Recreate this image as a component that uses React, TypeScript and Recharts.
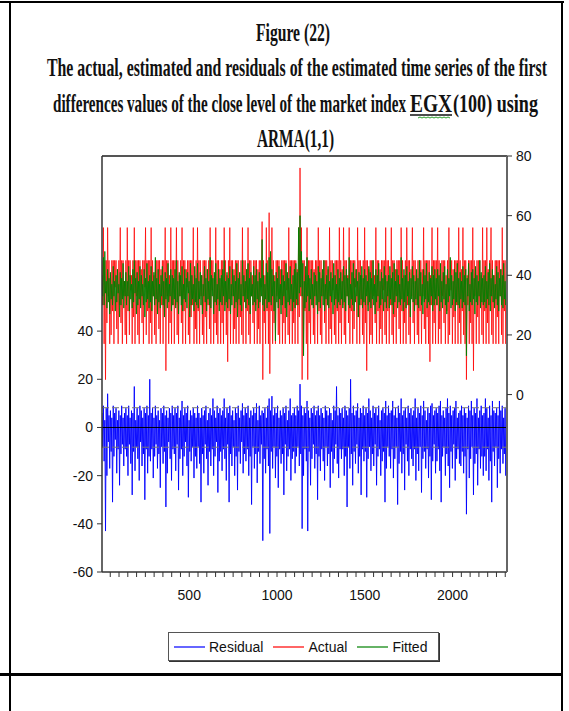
import { LineChart, Line, XAxis, YAxis, ReferenceLine } from "recharts";

// every 4th observation, starting at obs 3
const OBS_START = 3;
const OBS_STEP = 4;

const actual = [
  45, 30, 56, 17, 45, 5, 45, 24, 56, 33, 45, 17, 40, 20, 45, 28, 45, 17, 45, 36, 45, 22, 42, 17, 45, 30, 56, 24, 45, 17, 45, 33, 38, 20,
  45, 17, 56, 28, 45, 20, 45, 35, 40, 17, 45, 26, 56, 17, 45, 33, 45, 20, 45, 17, 45, 30, 42, 24, 45, 17, 45, 36, 56, 20, 45, 28, 45, 17,
  45, 24, 56, 17, 45, 33, 40, 20, 45, 17, 45, 28, 45, 22, 45, 17, 42, 30, 45, 17, 45, 26, 56, 8, 45, 33, 45, 17, 40, 24, 56, 17, 45, 30,
  45, 17, 45, 30, 56, 20, 45, 17, 40, 33, 45, 24, 56, 17, 45, 28, 45, 17, 42, 36, 45, 20, 45, 17, 45, 26, 45, 30, 56, 17, 40, 22, 45, 17,
  56, 28, 45, 17, 45, 33, 40, 20, 45, 17, 45, 26, 45, 17, 42, 30, 45, 22, 56, 17, 45, 35, 45, 17, 40, 24, 56, 20, 45, 17, 45, 30, 42, 17,
  45, 24, 45, 17, 56, 30, 45, 20, 40, 11, 45, 28, 56, 17, 45, 33, 45, 17, 42, 22, 45, 17, 45, 30, 45, 17, 40, 26, 45, 20, 56, 17, 45, 33,
  45, 17, 42, 28, 56, 20, 45, 17, 45, 33, 40, 24, 45, 17, 45, 30, 45, 17, 42, 22, 45, 17, 45, 36, 58, 5, 45, 24, 40, 17, 56, 28, 45, 17,
  61, 7, 45, 28, 56, 17, 45, 24, 40, 17, 45, 33, 45, 20, 45, 17, 42, 30, 45, 17, 45, 24, 45, 17, 45, 35, 40, 20, 56, 17, 45, 28, 45, 17,
  45, 24, 45, 17, 45, 30, 42, 17, 56, 26, 76, 33, 56, 5, 45, 17, 45, 28, 40, 17, 56, 5, 45, 24, 45, 17, 45, 30, 45, 20, 42, 17, 45, 33,
  45, 17, 56, 28, 45, 20, 45, 17, 40, 33, 45, 24, 45, 17, 45, 30, 42, 17, 56, 22, 45, 17, 45, 35, 40, 20, 45, 17, 45, 28, 45, 17, 56, 24,
  45, 17, 42, 30, 56, 20, 45, 17, 45, 33, 40, 24, 56, 17, 45, 28, 45, 17, 45, 22, 45, 36, 42, 17, 56, 26, 45, 17, 45, 30, 40, 20, 45, 17,
  56, 24, 45, 8, 45, 30, 42, 17, 45, 20, 45, 17, 45, 33, 40, 24, 56, 17, 45, 28, 45, 17, 42, 22, 45, 17, 45, 35, 45, 20, 56, 17, 45, 28,
  45, 17, 40, 30, 56, 20, 45, 17, 45, 26, 42, 17, 45, 33, 45, 22, 45, 17, 56, 28, 45, 17, 40, 24, 45, 17, 56, 30, 45, 20, 45, 17, 42, 33,
  56, 24, 45, 17, 45, 30, 40, 20, 45, 17, 45, 28, 45, 17, 42, 33, 56, 22, 45, 17, 45, 26, 45, 17, 45, 11, 40, 30, 56, 17, 45, 24, 45, 17,
  45, 30, 56, 17, 45, 22, 42, 17, 45, 33, 45, 24, 45, 17, 40, 28, 45, 17, 56, 20, 45, 35, 45, 17, 42, 26, 45, 17, 45, 30, 45, 17, 56, 24,
  45, 17, 42, 28, 56, 20, 45, 17, 45, 5, 40, 30, 45, 17, 45, 24, 45, 17, 56, 8, 45, 33, 42, 17, 45, 26, 45, 17, 45, 30, 40, 20, 56, 17,
  45, 28, 45, 17, 56, 24, 42, 17, 45, 33, 56, 20, 45, 17, 40, 30, 45, 17, 45, 26, 45, 17, 45, 33, 42, 20, 56, 17, 45, 28, 45, 17, 40,
];

const fitted = [
  40, 33, 46, 30, 48, 34, 38, 29, 42, 31, 39, 27, 41, 32, 37, 30, 43, 33, 38, 28, 40, 31, 42, 34, 37, 26, 41, 30, 39, 32, 44, 29, 38, 33,
  41, 30, 38, 33, 43, 28, 40, 32, 37, 29, 42, 31, 45, 34, 39, 27, 41, 30, 38, 32, 43, 29, 40, 33, 37, 30, 42, 26, 39, 31, 44, 32, 38, 29,
  40, 31, 43, 28, 38, 33, 41, 30, 46, 32, 39, 27, 42, 31, 37, 29, 40, 33, 43, 30, 38, 26, 41, 32, 39, 29, 44, 31, 37, 33, 42, 28, 40, 30,
  39, 32, 42, 29, 45, 31, 38, 27, 41, 33, 40, 30, 43, 28, 37, 32, 42, 31, 39, 29, 41, 34, 38, 26, 44, 30, 40, 32, 37, 28, 43, 31, 39, 30,
  44, 29, 38, 32, 41, 30, 40, 27, 37, 33, 43, 31, 39, 28, 42, 32, 38, 30, 46, 29, 40, 33, 39, 27, 41, 31, 44, 30, 37, 32, 42, 28, 39, 31,
  40, 30, 42, 33, 45, 28, 38, 31, 41, 29, 39, 32, 43, 27, 37, 30, 42, 33, 40, 29, 38, 31, 44, 26, 39, 32, 41, 30, 37, 28, 45, 33, 40, 31,
  38, 29, 42, 32, 44, 30, 39, 27, 41, 33, 37, 30, 43, 31, 40, 28, 42, 32, 38, 29, 41, 31, 39, 33, 52, 30, 40, 28, 37, 32, 44, 29, 41, 31,
  46, 31, 48, 30, 42, 33, 40, 28, 38, 18, 41, 31, 39, 29, 43, 32, 37, 27, 42, 30, 40, 33, 38, 29, 44, 26, 41, 31, 39, 30, 43, 32, 37, 28,
  40, 31, 42, 29, 44, 32, 41, 30, 56, 34, 60, 36, 48, 33, 44, 13, 38, 29, 43, 31, 46, 33, 40, 28, 39, 32, 42, 30, 37, 29, 41, 33, 40, 30,
  38, 27, 43, 31, 41, 29, 39, 33, 42, 30, 45, 28, 37, 32, 40, 30, 43, 29, 38, 33, 41, 31, 39, 27, 44, 30, 40, 32, 37, 29, 42, 31, 39, 30,
  41, 32, 38, 29, 43, 31, 40, 28, 42, 33, 39, 30, 46, 29, 37, 32, 41, 30, 44, 28, 39, 31, 42, 33, 38, 26, 41, 30, 40, 32, 43, 29, 39, 31,
  42, 30, 40, 33, 38, 28, 43, 31, 41, 29, 39, 32, 45, 30, 37, 27, 42, 31, 40, 33, 44, 29, 38, 30, 41, 32, 39, 28, 43, 31, 40, 29, 38, 33,
  40, 29, 43, 32, 39, 30, 41, 27, 44, 31, 38, 33, 42, 29, 40, 31, 37, 30, 46, 32, 39, 28, 42, 31, 40, 29, 43, 33, 38, 30, 41, 26, 39, 32,
  43, 31, 40, 28, 38, 32, 42, 30, 39, 29, 45, 33, 41, 30, 37, 27, 42, 31, 40, 32, 44, 29, 38, 31, 41, 30, 39, 33, 43, 28, 40, 30, 42, 32,
  39, 30, 42, 33, 40, 28, 44, 31, 38, 29, 41, 32, 43, 30, 37, 27, 42, 31, 39, 33, 46, 29, 40, 30, 38, 32, 42, 28, 41, 31, 44, 30, 39, 29,
  41, 32, 38, 29, 43, 31, 40, 30, 42, 13, 39, 33, 44, 28, 37, 31, 41, 30, 42, 32, 39, 27, 43, 31, 40, 30, 38, 33, 45, 29, 41, 31, 39, 30,
  40, 31, 43, 29, 38, 32, 41, 30, 44, 28, 39, 33, 42, 31, 40, 29, 37, 32, 43, 30, 41, 28, 39, 33, 42, 30, 40, 29, 44, 32, 38, 30, 41,
];

const residual = [
  6, -8, 9, -14, 3, -43, 8, -20, 14, -6, 5, -17, 7, -10, 4, -31, 9, -12, 6, -5, 8, -19, 3, -9, 7, -24, 5, -11, 9, -7, 4, -16, 6, -9,
  8, -12, 5, -20, 9, -7, 4, -15, 7, -28, 6, -10, 17, -18, 3, -8, 8, -13, 5, -22, 9, -6, 7, -16, 4, -11, 8, -30, 6, -9, 9, -19, 5, -12,
  20, -14, 6, -9, 8, -21, 4, -12, 9, -7, 5, -17, 7, -11, 3, -25, 8, -8, 6, -15, 9, -10, 5, -33, 7, -19, 4, -6, 8, -13, 6, -22, 9, -9,
  5, -11, 8, -18, 6, -7, 9, -26, 4, -13, 7, -9, 11, -20, 5, -12, 8, -6, 6, -16, 9, -29, 3, -10, 7, -14, 5, -8, 8, -21, 6, -12, 4, -17,
  9, -8, 6, -15, 4, -31, 8, -11, 5, -19, 7, -7, 9, -13, 3, -24, 6, -10, 8, -16, 5, -9, 12, -20, 7, -12, 4, -6, 9, -27, 6, -14, 8, -10,
  5, -18, 7, -9, 12, -13, 4, -22, 8, -7, 6, -31, 9, -11, 5, -16, 7, -8, 3, -20, 8, -12, 6, -26, 9, -10, 4, -15, 7, -6, 10, -19, 5, -11,
  8, -14, 6, -9, 9, -20, 4, -12, 7, -32, 5, -8, 8, -17, 6, -11, 10, -23, 3, -10, 9, -15, 5, -7, 7, -47, 6, -13, 8, -19, 4, -9, 9, -16,
  12, -44, 7, -10, 13, -17, 5, -8, 8, -21, 6, -12, 9, -25, 4, -9, 7, -15, 5, -11, 8, -28, 6, -7, 9, -18, 3, -12, 7, -9, 12, -22, 5, -13,
  6, -10, 8, -19, 5, -12, 9, -8, 7, -16, 18, -11, 9, -42, 5, -20, 8, -9, 6, -14, 11, -43, 7, -10, 4, -24, 8, -13, 6, -7, 9, -17, 5, -11,
  7, -30, 9, -12, 5, -18, 8, -9, 6, -14, 4, -22, 9, -8, 7, -16, 5, -11, 8, -25, 6, -10, 3, -19, 9, -13, 7, -7, 17, -15, 5, -21, 8, -9,
  6, -13, 8, -9, 4, -20, 9, -12, 7, -33, 5, -8, 8, -17, 20, -11, 6, -24, 9, -10, 5, -15, 7, -7, 10, -19, 4, -12, 8, -28, 6, -9, 9, -14,
  5, -10, 8, -29, 6, -13, 12, -8, 7, -18, 4, -11, 9, -16, 6, -7, 8, -24, 5, -12, 9, -9, 3, -20, 7, -14, 8, -10, 6, -31, 11, -17, 5, -8,
  9, -12, 6, -17, 7, -9, 11, -21, 5, -13, 8, -8, 4, -32, 9, -15, 6, -10, 12, -19, 5, -11, 7, -26, 8, -7, 4, -14, 9, -20, 6, -9, 8, -13,
  5, -16, 7, -9, 12, -22, 4, -11, 8, -18, 6, -8, 9, -27, 5, -13, 11, -10, 7, -17, 3, -9, 8, -21, 6, -12, 9, -30, 10, -14, 5, -7, 7, -19,
  8, -14, 6, -9, 9, -18, 11, -31, 5, -12, 7, -8, 4, -20, 8, -11, 12, -16, 6, -25, 9, -10, 5, -17, 7, -7, 8, -22, 11, -13, 4, -9, 6, -15,
  7, -16, 9, -10, 5, -19, 8, -12, 6, -36, 4, -9, 9, -21, 7, -13, 11, -8, 5, -28, 8, -15, 6, -11, 12, -24, 4, -9, 7, -17, 9, -12, 5, -20,
  6, -12, 12, -18, 8, -9, 4, -22, 9, -14, 5, -31, 11, -10, 7, -16, 6, -8, 8, -25, 5, -13, 11, -19, 7, -9, 9, -15, 4, -11, 8, -20, 11,
];

const xTicks = Array.from({ length: 46 }, (_, i) => (i + 1) * 50);
const leftTicks = [-60, -40, -20, 0, 20, 40];
const rightTicks = [0, 20, 40, 60, 80];
const seBand = 8.2; // +/- 1 S.E. of residuals

const legendItems = [
  { name: "Residual", color: "#0000ff" },
  { name: "Actual", color: "#ff0000" },
  { name: "Fitted", color: "#008000" },
];

const data = actual.map((a, i) => ({
  obs: OBS_START + i * OBS_STEP,
  actual: a,
  fitted: fitted[i],
  residual: residual[i],
}));

const axisFont = { fontFamily: "'Liberation Sans', Arial, sans-serif", fontSize: 14, fill: "#111" };

// title font is a tall, narrow bold serif: draw a small bold serif and stretch it vertically
const SY = 1.85;

function Title() {
  const font = { fontFamily: "'Liberation Serif', 'Times New Roman', serif", fontWeight: 700, fontSize: 14, fill: "#111" };
  const adj = "spacingAndGlyphs";
  return (
    <svg width={569} height={160} style={{ position: "absolute", left: 0, top: 0 }}>
      <g transform={`scale(1,${SY})`}>
        <text x={256} y={41 / SY} textLength={74} lengthAdjust={adj} {...font}>
          Figure (22)
        </text>
        <text x={47} y={76 / SY} textLength={500} lengthAdjust={adj} {...font}>
          The actual, estimated and residuals of the estimated time series of the first
        </text>
        <text x={53} y={112 / SY} textLength={353} lengthAdjust={adj} {...font}>
          differences values of the close level of the market index
        </text>
        <text x={410} y={112 / SY} textLength={42} lengthAdjust={adj} {...font}>
          EGX
        </text>
        <text x={453} y={112 / SY} textLength={85} lengthAdjust={adj} {...font}>
          (100) using
        </text>
        <text x={257} y={147 / SY} textLength={77} lengthAdjust={adj} {...font}>
          ARMA(1,1)
        </text>
      </g>
      <line x1={410} x2={452} y1={115} y2={115} stroke="#111" strokeWidth={1.5} />
      <polyline
        points="418,118 420,117 422,118 424,117 426,118 428,117 430,118 432,117 434,118 436,117 438,118 440,117 442,118 444,117 446,118 448,117 450,118"
        fill="none"
        stroke="#2a9d2a"
        strokeWidth={1}
      />
    </svg>
  );
}

export default function App() {
  return (
    <div style={{ position: "absolute", left: 0, top: 0, width: 569, height: 711, background: "#fff", overflow: "hidden" }}>
      {/* table borders */}
      <div style={{ position: "absolute", left: 0, top: 1, width: 564, height: 2, background: "#000" }} />
      <div style={{ position: "absolute", left: 9, top: 1, width: 2, height: 710, background: "#000" }} />
      <div style={{ position: "absolute", left: 561, top: 1, width: 2, height: 710, background: "#000" }} />
      <div style={{ position: "absolute", left: 0, top: 673, width: 563, height: 3, background: "#000" }} />

      <Title />

      <div style={{ position: "absolute", left: 0, top: 140 }}>
        <LineChart width={569} height={480} data={data} margin={{ top: 16, right: 22, bottom: 18, left: 62 }}>
          <XAxis
            dataKey="obs"
            type="number"
            domain={[3, 2310]}
            allowDataOverflow
            ticks={xTicks}
            interval={0}
            tickSize={5}
            tickMargin={13}
            height={30}
            tick={axisFont}
            tickFormatter={(v: number) => (v % 500 === 0 ? String(v) : "")}
            axisLine={{ stroke: "#333", strokeWidth: 1.5 }}
            tickLine={{ stroke: "#333" }}
          />
          <YAxis
            yAxisId="left"
            orientation="left"
            type="number"
            domain={[-60, 112.7]}
            allowDataOverflow
            ticks={leftTicks}
            interval={0}
            width={40}
            tickSize={5}
            tickMargin={4}
            tick={axisFont}
            axisLine={{ stroke: "#333", strokeWidth: 1.5 }}
            tickLine={{ stroke: "#333" }}
          />
          <YAxis
            yAxisId="right"
            orientation="right"
            type="number"
            domain={[-59.5, 80]}
            allowDataOverflow
            ticks={rightTicks}
            interval={0}
            width={40}
            tickSize={5}
            tickMargin={4}
            tick={axisFont}
            axisLine={{ stroke: "#666", strokeWidth: 2 }}
            tickLine={{ stroke: "#333" }}
          />
          <ReferenceLine yAxisId="right" y={80} stroke="#555" strokeWidth={2} />
          <Line
            yAxisId="left"
            dataKey="residual"
            type="linear"
            stroke="#0000ff"
            strokeWidth={0.9}
            dot={false}
            isAnimationActive={false}
          />
          <Line
            yAxisId="right"
            dataKey="actual"
            type="linear"
            stroke="#ff0000"
            strokeWidth={0.75}
            dot={false}
            isAnimationActive={false}
          />
          <Line
            yAxisId="right"
            dataKey="fitted"
            type="linear"
            stroke="#008000"
            strokeWidth={0.9}
            dot={false}
            isAnimationActive={false}
          />
          <ReferenceLine yAxisId="left" y={0} stroke="#000" strokeWidth={1} />
          <ReferenceLine yAxisId="left" y={seBand} stroke="#777" strokeDasharray="7 3" />
          <ReferenceLine yAxisId="left" y={-seBand} stroke="#777" strokeDasharray="7 3" />
        </LineChart>
      </div>

      {/* legend */}
      <div
        style={{
          position: "absolute",
          left: 168,
          top: 632,
          width: 271,
          height: 29,
          border: "1px solid #555",
          boxShadow: "1px 1px 0 #333",
          display: "flex",
          alignItems: "center",
          paddingLeft: 5,
          boxSizing: "border-box",
          fontFamily: "'Liberation Sans', Arial, sans-serif",
          fontSize: 14,
          color: "#111",
        }}
      >
        {legendItems.map((it) => (
          <div key={it.name} style={{ display: "flex", alignItems: "center", marginRight: 10 }}>
            <svg width={31} height={4} style={{ marginRight: 4 }}>
              <line x1={0} x2={31} y1={2} y2={2} stroke={it.color} strokeWidth={1.2} />
            </svg>
            <span>{it.name}</span>
          </div>
        ))}
      </div>
    </div>
  );
}
